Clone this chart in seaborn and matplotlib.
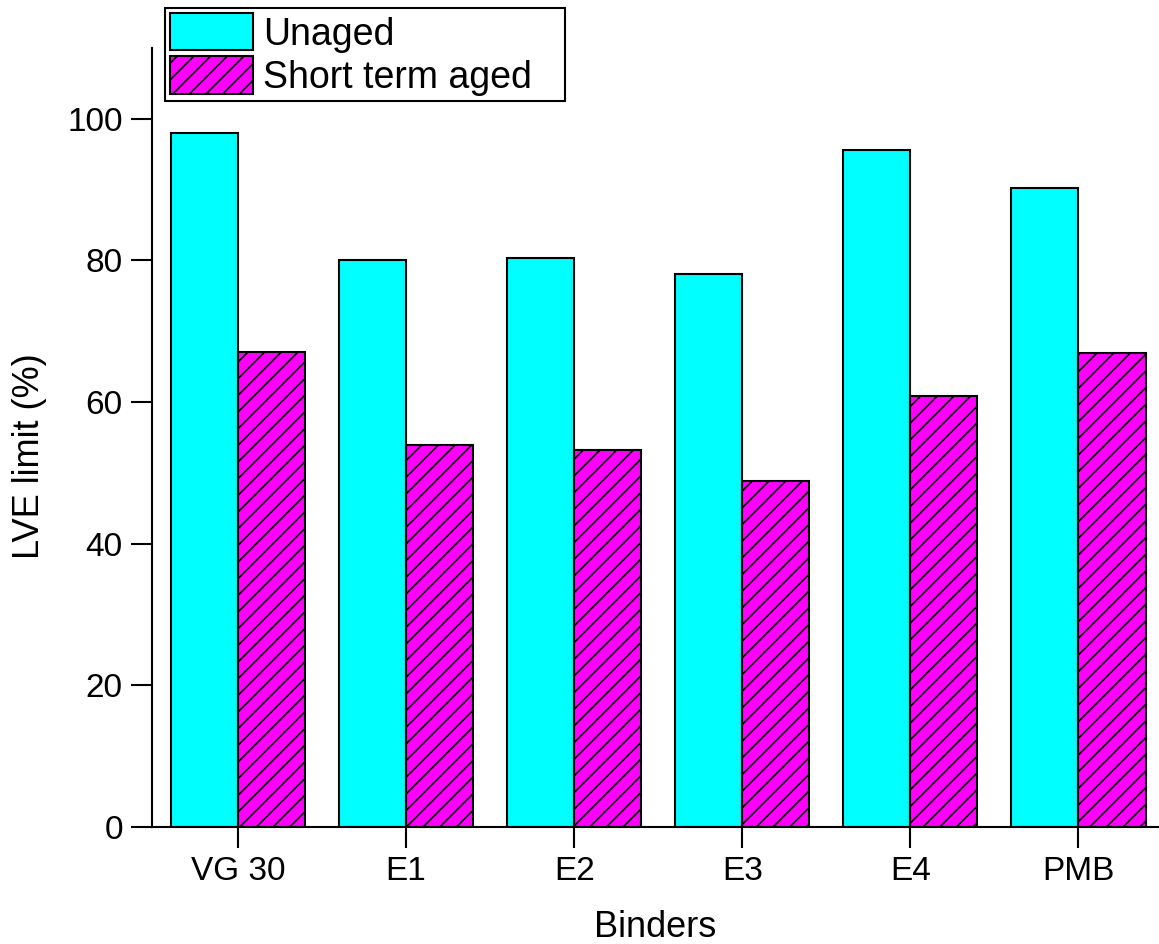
import matplotlib
matplotlib.use("Agg")
import matplotlib.pyplot as plt
import seaborn as sns
import pandas as pd
from matplotlib.patches import Patch

binders = ["VG 30", "E1", "E2", "E3", "E4", "PMB"]
unaged = [98.0, 80.1, 80.4, 78.1, 95.6, 90.3]
short_term = [67.1, 53.9, 53.3, 48.9, 60.9, 66.9]
series = ["Unaged", "Short term aged"]

df = pd.DataFrame({
    "Binders": binders * 2,
    "value": unaged + short_term,
    "cond": [series[0]] * len(binders) + [series[1]] * len(binders),
})

sns.set_style("ticks")
plt.rcParams["font.family"] = ["Liberation Sans", "DejaVu Sans"]
plt.rcParams["hatch.linewidth"] = 1.2
plt.rcParams["hatch.color"] = "black"
plt.rcParams["text.color"] = "black"
plt.rcParams["axes.labelcolor"] = "black"

fig = plt.figure(figsize=(11.59, 9.44), dpi=100)
ax = fig.add_axes([152/1159, 1-827/944, 1-152/1159, (827-48)/944])

colors = ["#00FFFF", "#FF00FF"]
sns.barplot(data=df, x="Binders", y="value", hue="cond", palette=colors,
            width=0.8, edgecolor="black", linewidth=1.5, saturation=1,
            ax=ax, legend=False, dodge=True, errorbar=None)

for p in ax.containers[1]:
    p.set_hatch("//")

ax.set_xlim(-0.512, 5.48)
ax.set_ylim(0, 110)
ax.set_yticks([0, 20, 40, 60, 80, 100])
for s in ["top", "right"]:
    ax.spines[s].set_visible(False)
for s in ["left", "bottom"]:
    ax.spines[s].set_linewidth(1.5)
    ax.spines[s].set_color("black")
ax.tick_params(axis="both", direction="out", length=15, width=1.5,
               labelsize=24, colors="black", pad=6)
ax.set_xlabel("Binders", fontsize=26)
ax.set_ylabel("LVE limit (%)", fontsize=26)
ax.xaxis.set_label_coords(0.5, -0.107)
ax.yaxis.set_label_coords(-0.104, 0.476)

handles = [Patch(facecolor=colors[0], edgecolor="black", linewidth=1.5),
           Patch(facecolor=colors[1], edgecolor="black", linewidth=1.5, hatch="//")]
leg = fig.legend(handles, series, loc="upper left", mode="expand",
                 bbox_to_anchor=(165/1159, 1-103/944, 400/1159, 95/944),
                 bbox_transform=fig.transFigure,
                 fontsize=27, frameon=True, fancybox=False, framealpha=1,
                 handlelength=2.2, handleheight=1.15, handletextpad=0.28,
                 borderpad=0.14, labelspacing=0.1, borderaxespad=0)
leg.get_frame().set_edgecolor("black")
leg.get_frame().set_linewidth(1.5)

fig.savefig("out.png", dpi=100)
